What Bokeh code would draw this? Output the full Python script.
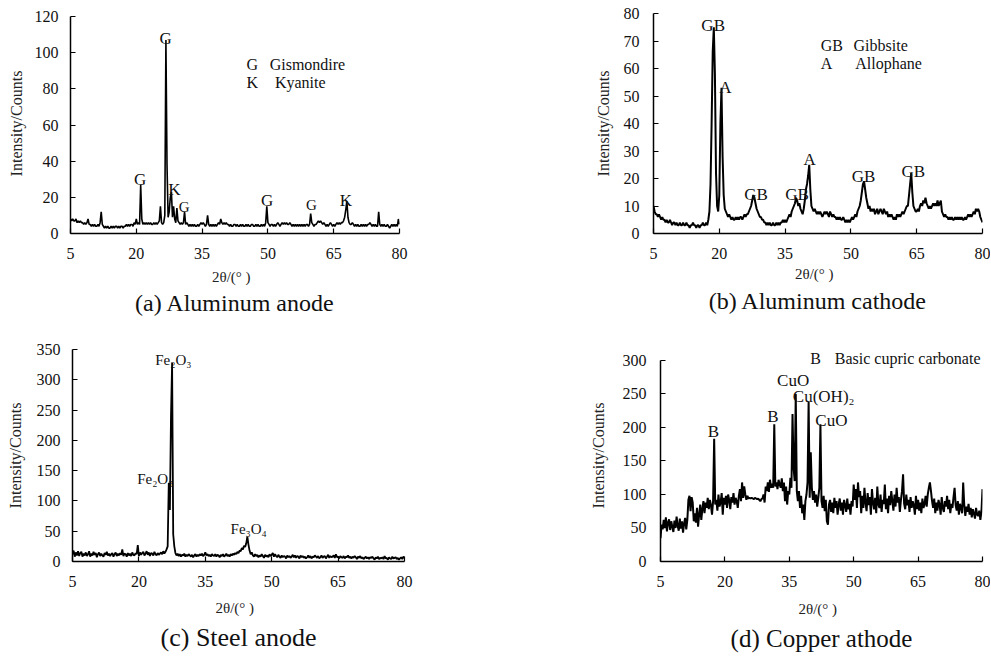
import numpy as np
from bokeh.plotting import figure
from bokeh.models import Label, Range1d, FixedTicker, Title
from bokeh.layouts import row, column
from bokeh.embed import file_html
from bokeh.resources import INLINE

# 2-theta sampling grid of the four patterns (0.25 deg steps, 5 -> 80 deg)
two_theta = np.linspace(5, 80, 301)
x_ticks = [5, 20, 35, 50, 65, 80]

# (a) Aluminum anode, counts (one line = 5 degrees, 4 points per degree)
counts_a = [
    8, 7, 8, 7, 7, 8, 6, 7, 6, 7, 6, 6, 5, 6, 5, 6, 8, 5, 5, 4,
    5, 4, 5, 4, 4, 5, 4, 6, 12, 5, 4, 3, 4, 3, 4, 3, 3, 4, 3, 4,
    3, 4, 4, 3, 4, 3, 4, 4, 3, 4, 4, 5, 4, 5, 4, 5, 5, 4, 6, 5,
    8, 5, 6, 5, 27, 8, 5, 6, 5, 6, 5, 6, 5, 6, 5, 5, 6, 5, 6, 5,
    6, 7, 15, 6, 5, 6, 10, 107, 38, 9, 12, 20, 23, 9, 15, 8, 6, 14, 7, 6,
    5, 6, 5, 6, 12, 5, 6, 5, 4, 5, 4, 5, 4, 5, 4, 4, 5, 4, 5, 6,
    5, 6, 5, 4, 5, 10, 5, 4, 5, 4, 5, 4, 5, 4, 5, 6, 5, 8, 6, 5,
    6, 5, 6, 5, 5, 4, 5, 4, 4, 5, 5, 4, 5, 4, 4, 5, 4, 5, 4, 4,
    5, 4, 5, 4, 4, 5, 5, 4, 4, 5, 4, 5, 4, 4, 5, 4, 5, 4, 6, 15,
    6, 5, 4, 5, 5, 4, 5, 4, 5, 6, 5, 4, 5, 6, 5, 6, 5, 6, 5, 5,
    6, 5, 4, 5, 4, 5, 4, 5, 4, 5, 4, 5, 4, 5, 4, 5, 5, 4, 5, 11,
    6, 5, 4, 5, 5, 6, 7, 6, 7, 6, 5, 6, 5, 4, 5, 4, 5, 6, 5, 4,
    5, 4, 5, 6, 5, 6, 5, 6, 6, 7, 9, 13, 18, 9, 6, 5, 5, 6, 5, 4,
    5, 4, 5, 4, 4, 5, 4, 5, 4, 5, 4, 5, 5, 6, 5, 4, 5, 4, 5, 4,
    4, 12, 5, 4, 5, 4, 5, 4, 4, 5, 4, 3, 4, 5, 4, 5, 4, 5, 4, 8,
    5,
]

# (b) Aluminum cathode
counts_b = [
    10, 8, 7, 7, 6, 7, 6, 5, 6, 5, 5, 4, 5, 4, 4, 5, 4, 3, 4, 4,
    3, 4, 3, 3, 4, 3, 3, 4, 3, 3, 4, 3, 3, 2, 3, 3, 4, 3, 3, 2,
    3, 3, 2, 3, 3, 4, 3, 3, 4, 3, 5, 8, 18, 40, 66, 75, 58, 22, 10, 8,
    14, 40, 53, 28, 14, 9, 8, 7, 6, 7, 6, 5, 6, 5, 5, 6, 5, 6, 5, 6,
    6, 5, 6, 7, 6, 7, 7, 8, 9, 10, 12, 14, 13, 11, 9, 8, 7, 6, 6, 5,
    5, 4, 4, 3, 4, 3, 4, 3, 3, 4, 3, 3, 4, 3, 4, 3, 4, 4, 5, 4,
    5, 4, 5, 6, 7, 6, 8, 9, 10, 11, 13, 12, 10, 11, 9, 8, 7, 9, 12, 16,
    18, 21, 25, 16, 10, 9, 8, 9, 8, 7, 8, 7, 8, 7, 6, 7, 8, 7, 8, 7,
    6, 8, 7, 6, 7, 6, 6, 5, 6, 5, 6, 5, 5, 6, 5, 4, 5, 4, 5, 4,
    5, 6, 5, 6, 7, 6, 8, 9, 10, 12, 15, 18, 19, 16, 13, 11, 9, 10, 8, 9,
    8, 9, 7, 8, 9, 7, 8, 9, 8, 7, 9, 8, 7, 8, 6, 7, 6, 7, 6, 5,
    6, 5, 7, 6, 7, 6, 7, 8, 7, 8, 9, 10, 10, 14, 18, 22, 15, 10, 9, 8,
    8, 9, 8, 10, 11, 10, 12, 11, 13, 11, 10, 9, 10, 9, 10, 11, 10, 11, 10, 12,
    10, 11, 12, 8, 7, 6, 7, 6, 6, 5, 6, 5, 6, 5, 5, 6, 5, 6, 5, 6,
    5, 6, 5, 5, 6, 5, 6, 7, 6, 7, 6, 7, 8, 7, 9, 8, 9, 8, 6, 5,
    4,
]

# (c) Steel anode
counts_c = [
    12, 18, 8, 15, 10, 17, 9, 14, 16, 8, 13, 10, 15, 9, 12, 17, 8, 13, 10, 16,
    11, 14, 7, 12, 15, 9, 13, 10, 8, 14, 11, 16, 10, 13, 9, 12, 14, 8, 12, 15,
    9, 13, 10, 14, 11, 20, 9, 13, 12, 8, 14, 10, 13, 9, 15, 11, 10, 14, 12, 27,
    9, 15, 11, 14, 16, 10, 13, 17, 11, 15, 9, 14, 13, 10, 16, 12, 10, 14, 11, 13,
    15, 12, 17, 13, 16, 20, 25, 130, 85, 240, 328, 45, 25, 14, 10, 13, 9, 12, 8, 11,
    10, 13, 8, 11, 9, 12, 10, 8, 11, 7, 10, 12, 8, 11, 9, 12, 10, 13, 9, 11,
    15, 10, 12, 9, 11, 8, 12, 10, 9, 12, 8, 11, 10, 7, 11, 9, 12, 8, 10, 13,
    9, 11, 8, 12, 10, 13, 11, 14, 12, 16, 14, 18, 17, 22, 20, 26, 24, 30, 41, 28,
    18, 12, 15, 10, 8, 12, 9, 11, 7, 10, 8, 12, 9, 6, 11, 8, 10, 7, 12, 9,
    11, 14, 8, 12, 9, 7, 11, 8, 6, 10, 7, 9, 8, 5, 10, 7, 9, 6, 8, 11,
    7, 10, 6, 9, 8, 5, 10, 7, 9, 6, 8, 5, 7, 10, 6, 9, 5, 8, 7, 10,
    8, 6, 9, 5, 7, 10, 6, 8, 9, 5, 8, 11, 6, 9, 7, 8, 10, 6, 12, 7,
    8, 5, 9, 7, 6, 9, 5, 8, 7, 10, 6, 8, 5, 8, 6, 9, 7, 4, 8, 6,
    9, 5, 7, 4, 6, 8, 5, 7, 4, 7, 6, 8, 5, 3, 7, 5, 8, 4, 6, 5,
    7, 4, 9, 5, 6, 3, 7, 5, 4, 8, 5, 6, 7, 4, 6, 3, 5, 7, 4, 8,
    6,
]

# (d) Copper cathode
counts_d = [
    35, 55, 48, 62, 50, 66, 45, 58, 63, 47, 60, 52, 44, 61, 50, 67, 53, 46, 64, 49,
    60, 43, 57, 65, 48, 62, 92, 98, 75, 96, 88, 60, 72, 58, 80, 52, 70, 85, 62, 78,
    90, 72, 88, 80, 95, 78, 92, 84, 70, 90, 183, 85, 92, 76, 100, 82, 88, 102, 70, 95,
    85, 98, 80, 100, 92, 78, 96, 88, 102, 85, 95, 90, 80, 98, 108, 90, 118, 95, 112, 100,
    92, 98, 94, 95, 94, 95, 94, 93, 95, 94, 93, 94, 92, 90, 93, 94, 100, 88, 112, 105,
    118, 104, 122, 110, 116, 110, 205, 112, 118, 108, 122, 115, 110, 124, 105, 118, 90, 112, 85, 105,
    100, 125, 110, 220, 140, 120, 250, 105, 90, 105, 80, 98, 72, 85, 62, 90, 100, 118, 238, 95,
    163, 110, 92, 105, 88, 100, 82, 95, 110, 205, 90, 80, 98, 75, 92, 60, 55, 85, 92, 74,
    88, 72, 95, 80, 90, 70, 85, 94, 76, 88, 70, 92, 84, 74, 94, 78, 86, 70, 90, 82,
    115, 92, 108, 80, 118, 96, 105, 72, 98, 80, 110, 88, 75, 102, 84, 96, 70, 108, 88, 78,
    95, 72, 112, 85, 80, 100, 74, 92, 86, 115, 78, 94, 72, 98, 84, 105, 90, 76, 100, 82,
    110, 88, 96, 74, 92, 105, 130, 86, 78, 100, 84, 92, 74, 96, 80, 90, 84, 70, 98, 78,
    92, 76, 88, 72, 94, 80, 86, 98, 82, 100, 110, 118, 105, 90, 80, 94, 72, 88, 76, 92,
    85, 70, 96, 80, 74, 90, 82, 98, 78, 92, 72, 86, 80, 96, 110, 84, 76, 90, 70, 86,
    80, 72, 118, 84, 68, 82, 74, 86, 70, 80, 66, 78, 72, 64, 80, 70, 68, 76, 62, 74,
    108,
]

# peak annotations (text, 2-theta, counts at the text baseline)
peak_text_a = ["G", "G", "K", "G", "G", "G", "K"]
peak_x_a = [20.9, 26.7, 28.7, 30.9, 49.8, 59.9, 67.8]
peak_y_a = [30, 108, 24.6, 14.5, 18, 15.6, 18]
legend_code_a = ["G", "K"]
legend_name_a = ["Gismondire", "Kyanite"]

peak_text_b = ["GB", "A", "GB", "GB", "A", "GB", "GB"]
peak_x_b = [18.6, 21.4, 28.4, 37.7, 40.6, 52.9, 64.2]
peak_y_b = [75.7, 53.2, 14.1, 14.1, 26.8, 20.7, 22.6]
legend_code_b = ["GB", "A"]
legend_name_b = ["Gibbsite", "Allophane"]

peak_text_c = ["Fe\u2082O\u2083", "Fe\u2082O\u2083", "Fe\u2083O\u2084"]
peak_x_c = [27.8, 23.7, 44.8]
peak_y_c = [333, 136, 53.6]

peak_text_d = ["B", "B", "CuO", "Cu(OH)\u2082", "CuO"]
peak_x_d = [17.3, 31.2, 35.9, 43.0, 44.8]
peak_y_d = [194, 216, 270.6, 246, 210.7]
legend_code_d = ["B"]
legend_name_d = ["Basic cupric carbonate"]

captions = ["(a) Aluminum anode", "(b) Aluminum cathode", "(c) Steel anode", "(d) Copper athode"]

SERIF = "Liberation Serif"


def make_panel(counts, y_top, y_end, y_step, width, height, borders,
               ytick_standoff, ylab_standoff, xlab_standoff, lw,
               caption, cap_size, cap_offset, cap_standoff):
    left, right, top, bottom = borders
    p = figure(width=width, height=height,
               x_range=Range1d(5, 80), y_range=Range1d(0, y_end),
               output_backend="svg", toolbar_location=None,
               min_border_left=left, min_border_right=right,
               min_border_top=top, min_border_bottom=bottom)
    p.outline_line_color = None
    p.grid.visible = False
    p.background_fill_color = "white"
    p.border_fill_color = "white"
    p.line(two_theta, counts, line_color="black", line_width=lw)
    p.xaxis.ticker = FixedTicker(ticks=x_ticks)
    p.yaxis.ticker = FixedTicker(ticks=list(range(0, y_top + 1, y_step)))
    p.yaxis.bounds = (0, y_top)
    for ax in (p.xaxis[0], p.yaxis[0]):
        ax.major_tick_in = 5
        ax.major_tick_out = 0
        ax.minor_tick_in = 0
        ax.minor_tick_out = 0
        ax.axis_line_color = "black"
        ax.axis_line_width = 1.5
        ax.major_tick_line_color = "black"
        ax.major_tick_line_width = 1.2
        ax.major_label_text_font = SERIF
        ax.major_label_text_font_size = "16px"
        ax.major_label_text_color = "#111111"
        ax.axis_label_text_font = SERIF
        ax.axis_label_text_font_style = "normal"
        ax.axis_label_text_color = "#222222"
    p.xaxis.axis_label = "2\u03b8/(\u00b0   )"
    p.yaxis.axis_label = "Intensity/Counts"
    p.xaxis.axis_label_text_font_size = "15px"
    p.yaxis.axis_label_text_font_size = "16px"
    p.xaxis.major_label_standoff = 14
    p.yaxis.major_label_standoff = ytick_standoff
    p.yaxis.axis_label_standoff = ylab_standoff
    p.xaxis.axis_label_standoff = xlab_standoff
    p.add_layout(Title(text=caption, align="center", offset=cap_offset,
                       standoff=cap_standoff, text_font=SERIF,
                       text_font_size=cap_size, text_font_style="normal",
                       text_color="#111111"), "below")
    return p


def add_text(p, text, x, y, size, align="center", baseline="alphabetic"):
    p.add_layout(Label(x=x, y=y, text=text, text_font=SERIF,
                       text_font_size=size, text_color="#111111",
                       text_align=align, text_baseline=baseline))


# top row: figures 330 px high, frames from 13 to 233 px
pa = make_panel(counts_a, 120, 121.66, 20, 480, 330, (70, 81, 13, 97),
                12, 7, 7, 1.6, captions[0], "24px", -23.5, 0)
for t, x, y in zip(peak_text_a, peak_x_a, peak_y_a):
    add_text(pa, t, x, y, "15px" if y < 16 else "17px")
add_text(pa, legend_code_a[0], 45.1, 93.2, "16px", align="left")
add_text(pa, legend_code_a[1], 45.1, 83.3, "16px", align="left")
add_text(pa, legend_name_a[0], 50.4, 93.2, "16px", align="left")
add_text(pa, legend_name_a[1], 51.6, 83.3, "16px", align="left")

pb = make_panel(counts_b, 80, 80, 10, 510, 330, (173, 8, 13, 97),
                14, 9, 4, 2.0, captions[1], "24px", -40.5, 2)
for t, x, y in zip(peak_text_b, peak_x_b, peak_y_b):
    add_text(pb, t, x, y, "17px")
add_text(pb, legend_code_b[0], 43.1, 68.2, "16px", align="left")
add_text(pb, legend_code_b[1], 43.1, 61.8, "16px", align="left")
add_text(pb, legend_name_b[0], 50.6, 68.2, "16px", align="left")
add_text(pb, legend_name_b[1], 51.0, 61.8, "16px", align="left")

# bottom row: figures 324 px high, frames from 349 to 561 px
pc = make_panel(counts_c, 350, 350, 50, 480, 324, (72, 76, 19, 93),
                12, 10, 10, 1.8, captions[2], "26px", -33, 4)
for t, x, y in zip(peak_text_c, peak_x_c, peak_y_c):
    add_text(pc, t, x, y, "15px")

pd_ = make_panel(counts_d, 300, 316.4, 50, 510, 324, (180, 8, 19, 93),
                 14, 13, 11, 2.0, captions[3], "25px", -33, 6)
for t, x, y in zip(peak_text_d, peak_x_d, peak_y_d):
    add_text(pd_, t, x, y, "17px")
add_text(pd_, legend_code_d[0], 39.9, 302.5, "16px", align="left")
add_text(pd_, legend_name_d[0], 45.6, 302.5, "16px", align="left")

layout = column(row(pa, pb), row(pc, pd_))

with open("out.html", "w") as f:
    f.write(file_html(layout, INLINE))
